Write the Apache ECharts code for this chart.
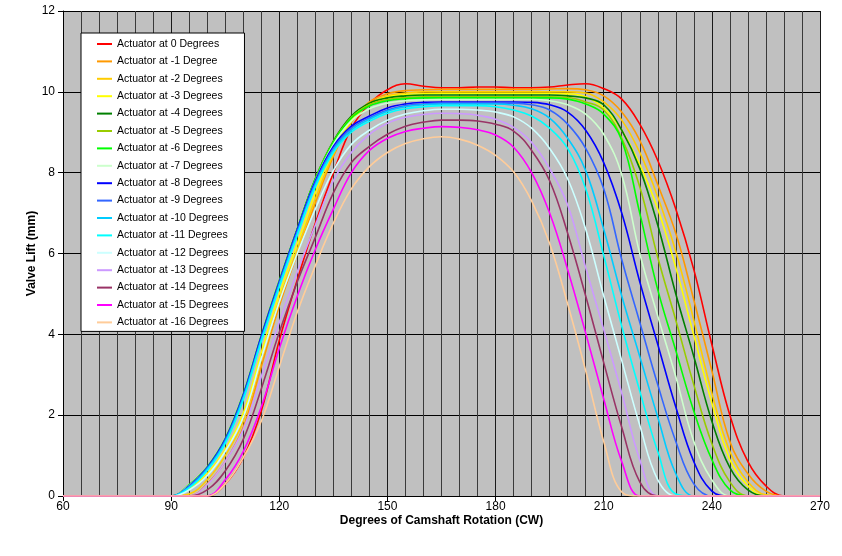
<!DOCTYPE html>
<html><head><meta charset="utf-8">
<script src="https://cdn.jsdelivr.net/npm/echarts@6/dist/echarts.min.js"></script>
<style>html,body{margin:0;padding:0;background:#fff}#c{width:842px;height:556px}</style>
</head><body><div id="c"></div>
<script>
// x positions (degrees of camshaft rotation), every 5 degrees
const xDeg = [60,65,70,75,80,85,90,95,100,105,110,115,120,125,130,135,140,145,150,155,160,165,
  170,175,180,185,190,195,200,205,210,215,220,225,230,235,240,245,250,255,260,265,270];
const xTicks = [60,90,120,150,180,210,240,270];
const yTicks = [0,2,4,6,8,10,12];

const seriesNames = ['Actuator at 0 Degrees','Actuator at -1 Degree','Actuator at -2 Degrees','Actuator at -3 Degrees',
  'Actuator at -4 Degrees','Actuator at -5 Degrees','Actuator at -6 Degrees','Actuator at -7 Degrees',
  'Actuator at -8 Degrees','Actuator at -9 Degrees','Actuator at -10 Degrees','Actuator at -11 Degrees',
  'Actuator at -12 Degrees','Actuator at -13 Degrees','Actuator at -14 Degrees','Actuator at -15 Degrees',
  'Actuator at -16 Degrees'];
const seriesColors = ['#FF0000','#FF9900','#FFCC00','#FFFF00','#008000','#99CC00','#00FF00','#CCFFCC',
  '#0000FF','#3366FF','#00CCFF','#00FFFF','#CCFFFF','#CC99FF','#993366','#FF00FF','#FFCC99'];

// valve lift (mm) per actuator setting
const act0  = [0,0,0,0,0,0, 0,0,0,0.3,0.95,2.1,3.85,5.35,6.75,8.0,9.1,9.7,10.05,10.2,10.14,10.1,
  10.1,10.12,10.12,10.1,10.1,10.12,10.17,10.2,10.08,9.82,9.2,8.3,7.1,5.6,3.75,2.0,0.85,0.25,0,0,0];
const act1  = [0,0,0,0,0,0, 0,0,0.3,0.85,1.7,3.2,4.7,6.0,7.25,8.4,9.25,9.75,9.95,10.03,10.05,10.06,
  10.06,10.06,10.06,10.06,10.06,10.07,10.08,10.05,9.9,9.5,8.8,7.7,6.5,4.85,3.1,1.35,0.55,0.12,0,0,0];
const act2  = [0,0,0,0,0,0, 0,0.05,0.4,1.0,1.85,3.35,4.85,6.1,7.35,8.45,9.25,9.7,9.9,9.97,10.0,10.0,
  10,10,10,10,10,10,10,9.97,9.75,9.3,8.5,7.4,6.05,4.35,2.55,1.1,0.35,0.03,0,0,0];
const act3  = [0,0,0,0,0,0, 0,0.18,0.55,1.15,2.05,3.55,5.0,6.25,7.5,8.55,9.3,9.7,9.87,9.93,9.95,9.96,
  9.96,9.96,9.96,9.96,9.96,9.96,9.95,9.88,9.6,9.05,8.2,7.1,5.65,3.97,2.3,0.9,0.25,0,0,0,0];
const act4  = [0,0,0,0,0,0, 0,0.25,0.68,1.36,2.45,3.9,5.28,6.6,7.85,8.78,9.4,9.72,9.85,9.9,9.92,9.92,
  9.92,9.92,9.92,9.92,9.92,9.92,9.9,9.85,9.68,9.05,8.1,6.7,5.0,3.45,1.85,0.7,0.15,0,0,0,0];
const act5  = [0,0,0,0,0,0, 0,0.26,0.69,1.37,2.46,3.92,5.3,6.6,7.85,8.76,9.37,9.68,9.81,9.86,9.88,9.88,
  9.88,9.88,9.88,9.88,9.88,9.88,9.86,9.75,9.55,8.85,7.65,5.9,4.35,2.75,1.3,0.35,0,0,0,0,0];
const act6  = [0,0,0,0,0,0, 0,0.28,0.72,1.42,2.52,3.97,5.33,6.62,7.85,8.75,9.35,9.65,9.78,9.83,9.85,9.85,
  9.85,9.85,9.85,9.85,9.85,9.85,9.82,9.7,9.45,8.8,7.0,5.1,3.6,2.1,0.9,0.15,0,0,0,0,0];
const act7  = [0,0,0,0,0,0, 0,0.26,0.69,1.38,2.47,3.92,5.28,6.58,7.8,8.7,9.28,9.58,9.72,9.78,9.8,9.81,
  9.81,9.81,9.81,9.81,9.81,9.78,9.68,9.45,8.95,7.95,6.0,4.45,2.95,1.35,0.4,0,0,0,0,0,0];
const act8  = [0,0,0,0,0,0, 0,0.25,0.7,1.4,2.5,3.95,5.3,6.6,7.8,8.65,9.15,9.4,9.6,9.7,9.74,9.75,
  9.75,9.75,9.75,9.75,9.74,9.68,9.5,9.05,8.25,7.0,5.3,3.75,2.2,0.85,0.12,0,0,0,0,0,0];
const act9  = [0,0,0,0,0,0, 0,0.24,0.68,1.37,2.46,3.9,5.26,6.55,7.75,8.6,9.1,9.36,9.55,9.66,9.7,9.72,
  9.72,9.72,9.72,9.72,9.68,9.55,9.2,8.6,7.6,5.85,4.3,2.75,1.35,0.3,0,0,0,0,0,0,0];
const act10 = [0,0,0,0,0,0, 0,0.22,0.66,1.34,2.42,3.86,5.22,6.5,7.7,8.55,9.05,9.32,9.52,9.63,9.68,9.7,
  9.7,9.7,9.7,9.67,9.58,9.35,8.85,8.05,6.6,4.95,3.45,1.95,0.55,0,0,0,0,0,0,0,0];
const act11 = [0,0,0,0,0,0, 0,0.2,0.63,1.3,2.38,3.82,5.17,6.45,7.65,8.5,9.0,9.27,9.47,9.58,9.63,9.66,
  9.66,9.66,9.63,9.55,9.4,9.1,8.6,7.6,5.95,4.2,2.6,1.1,0.05,0,0,0,0,0,0,0,0];
const act12 = [0,0,0,0,0,0, 0,0.15,0.5,1.1,1.95,3.4,4.8,6.0,7.1,8.05,8.7,9.05,9.3,9.45,9.53,9.57,
  9.57,9.55,9.5,9.38,9.1,8.6,7.85,6.6,4.95,3.35,1.75,0.4,0,0,0,0,0,0,0,0,0];
const act13 = [0,0,0,0,0,0, 0,0,0.28,0.85,1.65,2.95,4.3,5.55,6.7,7.8,8.5,8.95,9.22,9.37,9.44,9.47,
  9.46,9.42,9.32,9.12,8.75,8.1,7.2,5.65,4.12,2.55,0.9,0,0,0,0,0,0,0,0,0,0];
const act14 = [0,0,0,0,0,0, 0,0,0.15,0.62,1.4,2.65,4.05,5.3,6.4,7.5,8.25,8.65,8.95,9.15,9.25,9.3,
  9.3,9.28,9.2,9.03,8.55,7.8,6.5,4.95,3.3,1.7,0.35,0,0,0,0,0,0,0,0,0,0];
const act15 = [0,0,0,0,0,0, 0,0,0,0.4,1.1,2.2,3.65,4.95,6.1,7.1,8.0,8.55,8.85,9.02,9.1,9.14,
  9.12,9.06,8.93,8.63,8.0,7.0,5.6,4.03,2.4,0.85,0,0,0,0,0,0,0,0,0,0,0];
const act16 = [0,0,0,0,0,0, 0,0,0,0.3,0.95,1.85,3.2,4.55,5.7,6.75,7.6,8.15,8.5,8.72,8.84,8.89,
  8.83,8.68,8.43,8.02,7.3,6.25,4.75,3.1,1.35,0.1,0,0,0,0,0,0,0,0,0,0,0];

const allLifts = [act0,act1,act2,act3,act4,act5,act6,act7,act8,act9,act10,act11,act12,act13,act14,act15,act16];
allLifts.forEach((a,i)=>{ if (a.length !== xDeg.length) console.error('length mismatch in series', i, a.length); });

const FONT = 'Liberation Sans, Arial, sans-serif';
const chart = echarts.init(document.getElementById('c'), null, {renderer:'canvas'});
chart.setOption({
  animation: false,
  backgroundColor: '#fff',
  grid: {left: 63, right: 22, top: 11, bottom: 60, show: true, backgroundColor: '#C0C0C0', borderWidth: 0, containLabel: false},
  legend: {
    orient: 'vertical', left: 81, top: 33,
    backgroundColor: '#fff', borderColor: '#000', borderWidth: 1,
    padding: [4, 16, 2, 16],
    icon: 'rect', itemWidth: 15, itemHeight: 2, itemGap: 3.4, itemTextGap: 2,
    selectedMode: false,
    textStyle: {fontFamily: FONT, fontSize: 10.5, color: '#000', lineHeight: 14},
    data: seriesNames
  },
  xAxis: {
    type: 'value', min: xTicks[0], max: xTicks[xTicks.length-1], interval: xTicks[1]-xTicks[0],
    name: 'Degrees of Camshaft Rotation (CW)', nameLocation: 'middle', nameGap: 19, nameMoveOverlap: false,
    nameTextStyle: {fontFamily: FONT, fontSize: 12, fontWeight: 'bold', color: '#000'},
    axisLine: {show: true, onZero: false, lineStyle: {color: '#000', width: 1}},
    axisTick: {show: true, length: 5, lineStyle: {color: '#000'}},
    axisLabel: {fontFamily: FONT, fontSize: 12, color: '#000', margin: 5},
    splitLine: {show: true, lineStyle: {color: '#1a1a1a', width: 1}},
    minorTick: {show: false, splitNumber: 6},
    minorSplitLine: {show: true, lineStyle: {color: '#3a3a3a', width: 1}}
  },
  yAxis: {
    type: 'value', min: yTicks[0], max: yTicks[yTicks.length-1], interval: yTicks[1]-yTicks[0],
    name: 'Valve Lift (mm)', nameLocation: 'middle', nameGap: 25, nameMoveOverlap: false,
    nameTextStyle: {fontFamily: FONT, fontSize: 12, fontWeight: 'bold', color: '#000'},
    axisLine: {show: true, onZero: false, lineStyle: {color: '#000', width: 1}},
    axisTick: {show: true, length: 5, lineStyle: {color: '#000'}},
    axisLabel: {fontFamily: FONT, fontSize: 12, color: '#000', margin: 8},
    splitLine: {show: true, lineStyle: {color: '#000', width: 1}}
  },
  series: allLifts.map((arr, i) => ({
    name: seriesNames[i], type: 'line', showSymbol: false, symbol: 'none', smooth: 0.4,
    color: seriesColors[i],
    lineStyle: {width: 1.6, color: seriesColors[i]},
    emphasis: {disabled: true},
    data: xDeg.map((x, k) => [x, arr[k]])
  }))
});
</script></body></html>
